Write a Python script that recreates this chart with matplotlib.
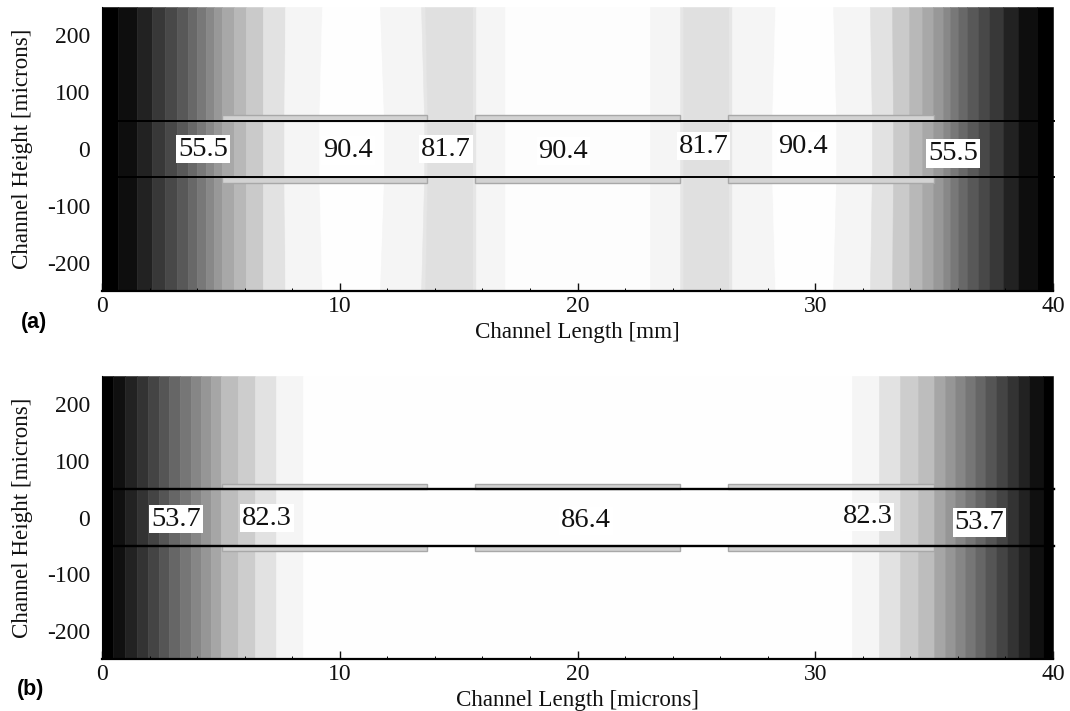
import matplotlib
matplotlib.use("Agg")
import matplotlib.pyplot as plt
from matplotlib.patches import Rectangle

# grey band boundaries along the channel, top of the plot and at the channel wall
edges_a_top = [0, 0.67, 1.47, 2.10, 2.65, 3.15, 3.62, 4.00, 4.37, 4.71, 5.05, 5.55, 6.06, 6.77,
               7.70, 9.25, 11.69, 13.42, 13.59, 15.60, 15.73, 16.95, 23.05, 24.31, 24.44, 26.37,
               26.50, 28.31, 30.75, 32.30, 33.23, 33.94, 34.49, 34.95, 35.37, 35.67, 36.00, 36.38,
               36.85, 37.31, 37.90, 38.53, 39.33, 40]
edges_a_mid = [0, 0.67, 1.47, 2.10, 2.65, 3.15, 3.62, 4.00, 4.37, 4.71, 5.05, 5.55, 6.06, 6.77,
               7.66, 9.13, 11.86, 13.55, 13.68, 15.60, 15.73, 16.95, 23.05, 24.31, 24.44, 26.37,
               26.50, 28.18, 30.88, 32.38, 33.27, 33.94, 34.49, 34.95, 35.37, 35.67, 36.00, 36.38,
               36.85, 37.31, 37.90, 38.53, 39.33, 40]
greys_a = [0x00, 0x0e, 0x22, 0x38, 0x48, 0x58, 0x68, 0x78, 0x88, 0x98, 0xa8, 0xb8, 0xca, 0xe2,
           0xf5, 0xfe, 0xf5, 0xe6, 0xe0, 0xe6, 0xf5, 0xfd, 0xf5, 0xe6, 0xe0, 0xe6,
           0xf5, 0xfe, 0xf5, 0xe2, 0xca, 0xb8, 0xa8, 0x98, 0x88, 0x78, 0x68, 0x58,
           0x48, 0x38, 0x22, 0x0e, 0x00]

edges_b = [0, 0.46, 0.97, 1.47, 1.93, 2.40, 2.82, 3.28, 3.74, 4.16, 4.58, 5.01, 5.72, 6.44,
           7.32, 8.45, 31.55, 32.68, 33.56, 34.32, 34.99, 35.46, 35.88, 36.30, 36.72, 37.14,
           37.60, 38.07, 38.53, 38.99, 39.58, 40]
greys_b = [0x00, 0x10, 0x22, 0x33, 0x44, 0x55, 0x66, 0x76, 0x86, 0x96, 0xa6, 0xbd, 0xcd, 0xe2,
           0xf5, 0xfe, 0xf5, 0xe2, 0xcd, 0xbd, 0xa6, 0x96, 0x86, 0x76, 0x66, 0x55,
           0x44, 0x33, 0x22, 0x10, 0x00]

gate_start = [5.05, 15.70, 26.35]
gate_end = [13.67, 24.30, 35.0]
channel_half = 50
gate_height = 10

labels_a = ["55.5", "90.4", "81.7", "90.4", "81.7", "90.4", "55.5"]
labels_a_x = [4.25, 10.35, 14.47, 19.4, 25.3, 29.5, 35.8]
labels_a_y = [0, -3, 0, -4, 5, 5, -8]

labels_b = ["53.7", "82.3", "86.4", "82.3", "53.7"]
labels_b_x = [3.11, 6.94, 20.36, 32.2, 36.9]
labels_b_y = [-3, -1, -6, 1, -9]

x_ticks = [0, 10, 20, 30, 40]
x_minor = [2, 4, 6, 8, 12, 14, 16, 18, 22, 24, 26, 28, 32, 34, 36, 38]
y_ticks = [-200, -100, 0, 100, 200]

plt.rcParams['font.family'] = ['Liberation Serif', 'DejaVu Serif']
plt.rcParams['axes.unicode_minus'] = False
W, H = 1070, 711


def draw_panel(ax, top, mid, greys, labels, lab_x, lab_y, xlabel, line_w):
    ys = [-250, -channel_half, channel_half, 250]
    for i, g in enumerate(greys):
        col = "#%02x%02x%02x" % (g, g, g)
        left = [top[i], mid[i], mid[i], top[i]]
        right = [top[i + 1], mid[i + 1], mid[i + 1], top[i + 1]]
        ax.fill_betweenx(ys, left, right, color=col, linewidth=0.4, zorder=1)

    for s, e in zip(gate_start, gate_end):
        for y0 in [channel_half, -channel_half - gate_height]:
            ax.add_patch(Rectangle((s, y0), e - s, gate_height, facecolor="#d2d2d2",
                                   edgecolor="#a8a8a8", linewidth=1, zorder=2))
    for y in [channel_half, -channel_half]:
        ax.plot([top[1], 40.05], [y, y], color="black", linewidth=line_w, zorder=3, clip_on=False)

    for t, x, y in zip(labels, lab_x, lab_y):
        ax.text(x, y, t, fontsize=20.5, ha="center", va="center", color="#111111", zorder=4,
                bbox=dict(facecolor="white", edgecolor="none", pad=1.2))

    ax.set_xlim(0, 40)
    ax.set_ylim(-250, 250)
    ax.set_xticks(x_ticks)
    ax.set_xticks(x_minor, minor=True)
    ax.set_yticks(y_ticks)
    ax.tick_params(axis="x", which="major", direction="in", length=6, width=1,
                   labelsize=17, pad=3.5, colors="#111111")
    ax.tick_params(axis="y", which="major", length=0, labelsize=17, pad=8.5, colors="#111111")
    ax.tick_params(axis="x", which="minor", direction="in", length=2.5, width=0.7)
    ax.spines["top"].set_visible(False)
    ax.spines["right"].set_visible(False)
    ax.spines["bottom"].set_linewidth(1.6)
    ax.set_xlabel(xlabel, fontsize=16.6, labelpad=3.5, color="#111111")
    ax.set_ylabel("Channel Height [microns]", fontsize=16.6, labelpad=10, color="#111111")


fig = plt.figure(figsize=(W / 100, H / 100), dpi=100)

ax_a = fig.add_axes([102 / W, 1 - 291 / H, 951 / W, 284 / H])
draw_panel(ax_a, edges_a_top, edges_a_mid, greys_a, labels_a, labels_a_x, labels_a_y,
           "Channel Length [mm]", 1.4)

ax_b = fig.add_axes([102 / W, 1 - 659 / H, 951 / W, 283 / H])
draw_panel(ax_b, edges_b, edges_b, greys_b, labels_b, labels_b_x, labels_b_y,
           "Channel Length [microns]", 1.7)

fig.text(34 / W, 1 - 323 / H, "(a)", family="Liberation Sans", fontweight="bold", fontsize=15.5,
         ha="center", va="center")
fig.text(31 / W, 1 - 690 / H, "(b)", family="Liberation Sans", fontweight="bold", fontsize=15.5,
         ha="center", va="center")

fig.savefig("out.png", dpi=100)
